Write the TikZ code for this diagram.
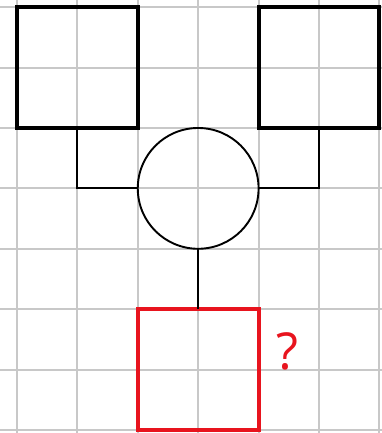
\documentclass[tikz,border=0pt]{standalone}
\usepackage{fontspec}
\setmainfont{Open Sans}
\usetikzlibrary{positioning}
\definecolor{gridgray}{RGB}{200,200,200}
\definecolor{qred}{RGB}{232,20,30}

\begin{document}
\begin{tikzpicture}[
    parent/.style ={rectangle, draw, line width=1.9pt, minimum size=2cm,
                    inner sep=0pt, outer sep=0pt},
    unknown/.style={parent, draw=qred},
    mate/.style   ={circle, draw, line width=0.9pt, minimum size=2cm,
                    inner sep=0pt, outer sep=0pt},
    link/.style   ={line width=0.9pt}
]
\useasboundingbox (-0.281,-0.05) rectangle (6.043,7.119);
% background grid
\draw[gridgray, line width=0.9pt] (-1,-1) grid (7,8);

% Generation 1
\node[parent] (lsq) at (1,6) {};
\node[parent] (rsq) at (5,6) {};

% Middle
\node[mate] (circ) at (3,4) {};

% Generation 2
\node[unknown] (qsq) at (3,1) {};
\node[anchor=base, text=qred, font=\fontsize{24}{28}\selectfont,
      inner sep=0pt] (qmark) at (4.48,1.0) {?};

% Connectors
\draw[link] (lsq.south) |- (circ.west);
\draw[link] (rsq.south) |- (circ.east);
\draw[link] (circ.south) -- (qsq.north);
\end{tikzpicture}
\end{document}
